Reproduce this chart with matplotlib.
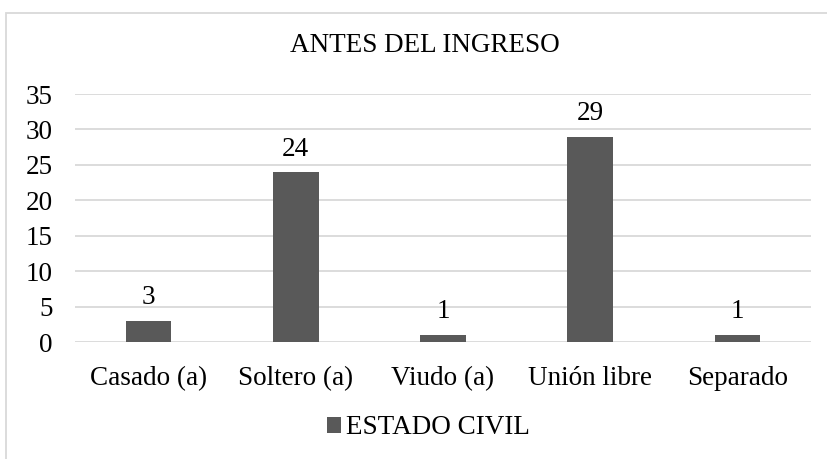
import matplotlib.pyplot as plt
from matplotlib.patches import Rectangle

categorias = ['Casado (a)', 'Soltero (a)', 'Viudo (a)', 'Unión libre', 'Separado']
valores = [3, 24, 1, 29, 1]
serie = 'ESTADO CIVIL'
titulo = 'ANTES DEL INGRESO'

plt.rcParams['font.family'] = ['Liberation Serif', 'DejaVu Serif']
fs = 19.5

W, H = 827, 459
fig = plt.figure(figsize=(W / 100, H / 100), dpi=100)
ax = fig.add_axes([75 / W, 1 - 342 / H, (811 - 75) / W, (342 - 94) / H])

# marco del gráfico
fig.patches.append(Rectangle((6 / W, -0.1), 1.2, 1.1 - 13 / H, transform=fig.transFigure,
                             fill=False, edgecolor='#d9d9d9', linewidth=1.3))

x = range(len(categorias))
ax.bar(x, valores, width=0.31, color='#595959', label=serie, zorder=3)
for xi, v in zip(x, valores):
    ax.annotate(str(v), (xi, v), xytext=(0, 7.5), textcoords='offset points',
                ha='center', va='bottom', fontsize=fs, color='#000000')

ax.set_xlim(-0.5, len(categorias) - 0.5)
ax.set_ylim(0, 35)
ax.set_yticks(range(0, 36, 5))
ax.set_xticks(list(x))
ax.set_xticklabels(categorias)
ax.tick_params(axis='both', length=0, labelsize=fs, colors='#000000')
ax.tick_params(axis='x', pad=17)
ax.tick_params(axis='y', pad=16)
ax.grid(axis='y', color='#d9d9d9', linewidth=1.3, zorder=0)
for s in ax.spines.values():
    s.set_visible(False)

fig.text(424.5 / W, 1 - 46 / H, titulo, ha='center', va='center', fontsize=fs)
fig.legend(loc='center', bbox_to_anchor=(428.5 / W, 1 - 428 / H), frameon=False,
           fontsize=fs, handlelength=0.5, handleheight=0.5, handletextpad=0.2)

plt.savefig('out.png', dpi=100)
